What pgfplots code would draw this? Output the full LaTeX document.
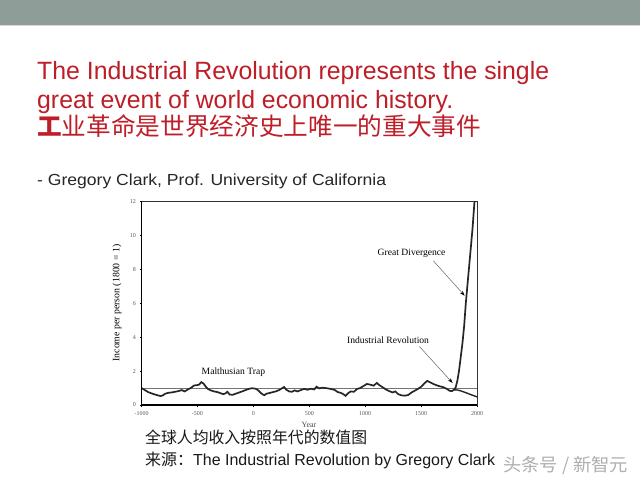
\documentclass[border=0pt]{standalone}
\usepackage{pgfplots}
\pgfplotsset{compat=1.18}
\usepackage{pgfplotstable}
\usepackage{graphicx}
\usepackage{fontspec}
\setmainfont{Liberation Sans}
\newfontfamily\chartfont{Liberation Serif}
\newfontfamily\cjk{Noto Sans CJK SC}
\usetikzlibrary{arrows.meta}
\definecolor{titlered}{RGB}{190,30,40}
\definecolor{bargray}{RGB}{143,157,153}
\definecolor{wmgray}{RGB}{175,175,175}

\pgfplotstableread{
year income
-1000 1.00
-970 0.88
-940 0.76
-900 0.66
-860 0.58
-830 0.53
-810 0.56
-790 0.66
-760 0.72
-730 0.74
-700 0.78
-670 0.82
-640 0.88
-615 0.80
-590 0.90
-560 1.00
-530 1.15
-505 1.17
-485 1.20
-465 1.35
-445 1.26
-425 1.08
-405 0.94
-380 0.86
-350 0.80
-320 0.76
-295 0.70
-270 0.64
-250 0.68
-232 0.78
-212 0.62
-185 0.60
-160 0.66
-130 0.73
-100 0.80
-70 0.88
-40 0.95
-10 0.99
20 0.96
45 0.86
65 0.72
85 0.62
100 0.58
115 0.66
140 0.70
170 0.75
200 0.80
230 0.88
255 0.98
275 1.06
295 0.90
320 0.80
345 0.78
370 0.86
395 0.80
425 0.88
455 0.95
485 0.90
515 0.96
545 0.92
565 1.08
590 0.98
615 1.02
645 1.00
675 0.97
705 0.93
730 0.88
755 0.76
780 0.72
800 0.66
825 0.54
845 0.68
870 0.80
900 0.78
925 0.94
955 1.00
985 1.12
1015 1.24
1045 1.20
1075 1.14
1105 1.30
1125 1.18
1155 1.05
1185 0.92
1215 0.82
1245 0.74
1270 0.80
1295 0.64
1325 0.57
1355 0.55
1385 0.59
1415 0.74
1445 0.85
1475 0.96
1505 1.10
1530 1.28
1555 1.42
1580 1.34
1610 1.24
1640 1.16
1670 1.10
1700 1.05
1730 0.95
1755 0.84
1775 0.82
1795 0.90
1810 1.05
1825 1.45
1840 2.05
1855 2.85
1870 3.65
1885 4.65
1900 6.00
1915 7.10
1930 8.20
1945 9.30
1960 10.40
1972 11.50
1982 12.40
}\mainseries

\pgfplotstableread{
year income
1795 0.90
1830 0.88
1870 0.80
1910 0.70
1950 0.60
2000 0.48
}\lowerseries

\begin{document}
\begin{tikzpicture}
\useasboundingbox (0,0) rectangle (640pt,480pt);
\fill[white] (0,0) rectangle (640pt,480pt);
\fill[bargray] (0,455pt) rectangle (640pt,480pt);
\fill[black!15] (0,454pt) rectangle (640pt,455pt);

% Title lines
\node[anchor=base west, inner sep=0, text=titlered] at (37pt,400pt)
  {\resizebox{512pt}{\height}{\fontsize{25}{30}\selectfont The Industrial Revolution represents the single}};
\node[anchor=base west, inner sep=0, text=titlered] at (37pt,371pt)
  {\resizebox{416pt}{\height}{\fontsize{25}{30}\selectfont great event of world economic history.}};
\node[anchor=base west, inner sep=0, text=titlered] at (37pt,344pt)
  {\resizebox{444pt}{\height}{\cjk\fontsize{24.5}{30}\selectfont {\bfseries 工}业革命是世界经济史上唯一的重大事件}};
\node[anchor=base west, inner sep=0, text=black!85] at (37pt,294pt)
  {\resizebox{349pt}{\height}{\fontsize{16}{20}\selectfont - Gregory Clark, Prof. University of California}};

\begin{axis}[
  at={(141.5pt,75pt)}, anchor=south west,
  width=335.5pt, height=203.5pt, scale only axis,
  xmin=-1000, xmax=2000, ymin=0, ymax=12,
  xtick={-1000,-500,0,500,1000,1500,2000},
  ytick={0,2,4,6,8,10,12},
  tick align=outside, major tick length=2pt,
  tick style={black, line width=0.6pt},
  xtick pos=bottom, ytick pos=left,
  axis line style={black!80, line width=0.7pt},
  ticklabel style={font=\chartfont\fontsize{6}{7}\selectfont, text=black!65},
  xticklabel style={yshift=-1pt},
  /pgf/number format/assume math mode=true,
  /pgf/number format/1000 sep={},
  clip=true,
]
\addplot[black!55, line width=0.6pt] coordinates {(-1000,1) (2000,1)};
\addplot[black!85, line width=1.7pt] table[x=year, y=income] {\mainseries};
\addplot[black!85, line width=1.4pt] table[x=year, y=income] {\lowerseries};
\node[font=\chartfont\fontsize{9.6}{11}\selectfont] at (axis cs:-178,1.96) {Malthusian Trap};
\node[font=\chartfont\fontsize{9.6}{11}\selectfont] at (axis cs:1205,3.83) {Industrial Revolution};
\node[font=\chartfont\fontsize{9.6}{11}\selectfont] at (axis cs:1415,8.94) {Great Divergence};
\draw[black!60, line width=0.5pt, -{Stealth[length=5pt, width=3.5pt, black]}] (axis cs:1485,3.45) -- (axis cs:1782,1.3);
\draw[black!60, line width=0.5pt, -{Stealth[length=5pt, width=3.5pt, black]}] (axis cs:1610,8.5) -- (axis cs:1889,6.45);
\end{axis}
\draw[black, line width=1.5pt] (141.5pt,278.5pt) -- (141.5pt,75pt) -- (477pt,75pt);

\node[rotate=90, font=\chartfont\fontsize{9.8}{11}\selectfont] at (117pt,177pt) {Income per person (1800 = 1)};
\node[font=\chartfont\fontsize{8}{9}\selectfont, text=black!70] at (309pt,55.5pt) {Year};

% captions
\node[anchor=base west, inner sep=0, text=black!90] at (145pt,36.5pt)
  {\resizebox{222pt}{\height}{\cjk\fontsize{16}{20}\selectfont 全球人均收入按照年代的数值图}};
\node[anchor=base west, inner sep=0, text=black!90] at (145pt,14.5pt)
  {\resizebox{350pt}{\height}{\fontsize{16}{20}\selectfont {\cjk 来源：}The Industrial Revolution by Gregory Clark}};
\node[anchor=base west, inner sep=0, text=wmgray] at (503pt,9pt)
  {\resizebox{125pt}{\height}{\cjk\fontsize{18}{22}\selectfont 头条号 / 新智元}};
\end{tikzpicture}
\end{document}
